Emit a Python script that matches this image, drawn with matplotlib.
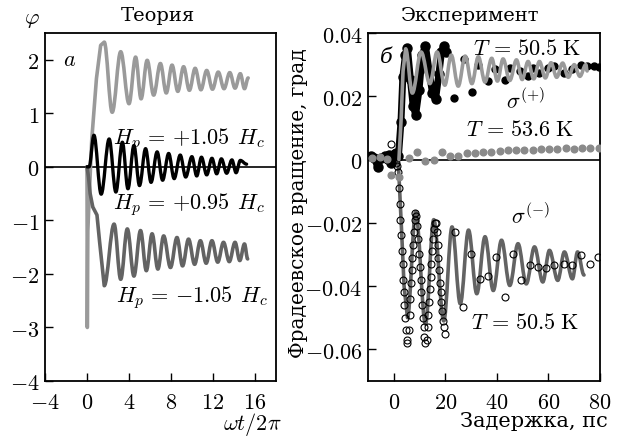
import matplotlib
matplotlib.use("Agg")
import matplotlib.pyplot as plt
from matplotlib.path import Path
from matplotlib.patches import PathPatch

plt.rcParams["font.family"] = ["DejaVu Serif"]
plt.rcParams["mathtext.fontset"] = "cm"

# -----------------------
# ТЕОРИЯ (левая панель): начальный участок + экстремумы колебаний
# -----------------------
x_p105 = [0.0, 0.03, 0.08, 0.2, 0.45, 0.9, 1.3, 1.64, 2.4, 3.21, 4.0, 4.63, 5.15, 5.73, 6.35, 6.99,
          7.55, 8.1, 8.65, 9.2, 9.75, 10.3, 10.85, 11.4, 11.95, 12.5, 13.05, 13.6, 14.1, 14.6, 15.0, 15.35]
y_p105 = [0.0, -3.0, -1.2, -0.6, 0.5, 1.65, 2.27, 2.33, 1.02, 2.15, 1.18, 2.05, 1.27, 1.99, 1.34, 1.93,
          1.38, 1.90, 1.41, 1.87, 1.43, 1.84, 1.44, 1.80, 1.45, 1.77, 1.46, 1.76, 1.47, 1.74, 1.46, 1.66]

x_p095 = [0.0, 0.2, 0.66, 1.35, 2.11, 2.75, 3.37, 3.9, 4.47, 5.0, 5.58, 6.1, 6.68, 7.2, 7.78, 8.3, 8.88,
          9.4, 9.99, 10.45, 10.9, 11.4, 11.9, 12.35, 12.8, 13.3, 13.8, 14.2, 14.6, 15.2]
y_p095 = [0.0, 0.0, 0.59, -0.51, 0.52, -0.47, 0.46, -0.41, 0.40, -0.35, 0.34, -0.29, 0.28, -0.25, 0.25,
          -0.22, 0.22, -0.19, 0.19, -0.17, 0.18, -0.15, 0.16, -0.13, 0.15, -0.12, 0.13, -0.11, 0.12, 0.05]

x_m105 = [0.0, 0.15, 0.3, 0.55, 0.95, 1.2, 1.64, 2.58, 3.21, 3.84, 4.47, 5.1, 5.65, 6.2, 6.75, 7.3,
          7.95, 8.57, 9.1, 9.67, 10.25, 10.8, 11.35, 11.9, 12.45, 13.0, 13.55, 14.1, 14.55, 15.0, 15.3]
y_m105 = [0.0, -0.2, -0.5, -0.75, -0.9, -1.4, -2.22, -1.07, -2.10, -1.16, -2.04, -1.19, -1.94, -1.25,
          -1.91, -1.29, -1.88, -1.32, -1.85, -1.35, -1.82, -1.38, -1.80, -1.38, -1.78, -1.41, -1.77,
          -1.41, -1.75, -1.44, -1.72]

left_xticks = [-4, 0, 4, 8, 12, 16]
left_yticks = [-4, -3, -2, -1, 0, 1, 2]

# -----------------------
# ЭКСПЕРИМЕНТ (правая панель)
# -----------------------
# sigma(+), T = 50.5 K: плотная часть (до 20 пс) и редкие точки
t_plus_dense = [-9.0, -7.5, -6.3, -5.0, -3.5, -2.0, -1.0, 0.0, 1.0, 1.8, 2.8, 3.5, 4.5, 5.3, 6.5, 7.5,
                8.5, 9.8, 11.0, 12.3, 13.7, 15.0, 16.2, 17.5, 18.5, 19.4, 20.2]
v_plus_dense = [0.001, 0.0005, -0.0022, 0.0005, 0.001, 0.0015, -0.001, 0.001, 0.002, 0.001, 0.012, 0.026,
                0.033, 0.0353, 0.025, 0.017, 0.0142, 0.022, 0.033, 0.0359, 0.028, 0.021, 0.019, 0.027,
                0.034, 0.0359, 0.034]
t_plus_sparse = [23.2, 27.1, 30.3, 32.8, 36.7, 39.2, 43.1, 45.0, 48.8, 52.0, 54.0, 56.5, 59.7, 62.3,
                 66.2, 69.3, 72.6, 75.1, 77.5, 79.5]
v_plus_sparse = [0.0195, 0.0317, 0.0215, 0.030, 0.0248, 0.0285, 0.0253, 0.029, 0.0279, 0.0263, 0.029,
                 0.0274, 0.029, 0.0295, 0.0274, 0.0285, 0.030, 0.0295, 0.0295, 0.0292]
t_plus_fit = [2.0, 2.8, 3.6, 4.6, 7.2, 10.6, 14.0, 16.8, 19.8, 22.3, 25.0, 27.7, 30.3, 32.8, 35.4, 38.0,
              40.2, 42.4, 45.0, 47.6, 49.8, 52.1, 54.3, 56.5, 58.8, 61.0, 63.2, 65.5, 67.7, 70.0, 72.2,
              74.5, 75.0]
v_plus_fit = [0.0, 0.012, 0.028, 0.035, 0.021, 0.034, 0.024, 0.034, 0.0235, 0.033, 0.0232, 0.0327,
              0.024, 0.0325, 0.0245, 0.032, 0.0248, 0.0318, 0.025, 0.0315, 0.0253, 0.031, 0.0255, 0.031,
              0.0258, 0.0306, 0.026, 0.0305, 0.026, 0.030, 0.0263, 0.0300, 0.028]

# T = 53.6 K
t_536 = [-8.5, -5.5, -2.5, -1.2, 2.0, 5.9, 9.1, 12.3, 15.5, 18.7, 21.9, 25.1, 28.3, 31.5, 34.7, 37.9,
         41.1, 44.3, 47.5, 50.7, 53.9, 57.1, 60.3, 63.5, 66.7, 69.9, 73.1, 76.3, 79.5]
v_536 = [0.0005, 0.0008, 0.0003, -0.0049, -0.0054, 0.0004, 0.0025, -0.0006, -0.0001, 0.0025, 0.0012,
         0.0012, 0.002, 0.0022, 0.0024, 0.0025, 0.0028, 0.0029, 0.0029, 0.0031, 0.0031, 0.0033, 0.0033,
         0.0034, 0.0036, 0.0034, 0.0035, 0.0036, 0.0037]

# sigma(-), T = 50.5 K
t_minus = [-2.5, -1.2, 0.0, 0.8, 1.2,
           1.6, 2.0, 2.3, 2.6, 2.9, 3.2, 3.4, 3.7, 3.9, 4.1, 4.4, 4.7, 5.0, 5.3,
           5.8, 6.1, 6.4, 6.7, 6.9, 7.2, 7.5, 7.8, 8.1, 8.4, 8.8,
           9.2, 9.5, 9.8, 10.1, 10.4, 10.7, 11.0, 11.3, 11.6, 11.9, 12.3, 12.7,
           13.1, 13.4, 13.7, 14.0, 14.3, 14.6, 14.9, 15.2, 15.5, 15.9, 16.3,
           16.7, 17.0, 17.3, 17.6, 17.9, 18.2, 18.5, 18.8, 19.1, 19.4, 19.7,
           23.8, 26.7, 30.0, 33.5, 36.4, 39.6, 43.1, 46.3, 49.5, 52.7, 55.9, 59.1, 62.3, 65.9, 69.3,
           72.6, 76.0, 79.4]
v_minus = [0.0, 0.005, 0.002, -0.001, -0.002,
           -0.004, -0.009, -0.014, -0.019, -0.024, -0.029, -0.033, -0.038, -0.042, -0.046, -0.050,
           -0.054, -0.057, -0.058,
           -0.054, -0.049, -0.044, -0.039, -0.035, -0.031, -0.027, -0.023, -0.019, -0.017, -0.018,
           -0.021, -0.025, -0.030, -0.034, -0.038, -0.042, -0.046, -0.050, -0.053, -0.056, -0.058, -0.057,
           -0.053, -0.049, -0.045, -0.041, -0.037, -0.033, -0.029, -0.025, -0.022, -0.020, -0.020,
           -0.023, -0.027, -0.031, -0.035, -0.039, -0.042, -0.045, -0.048, -0.051, -0.053, -0.055,
           -0.0229, -0.0467, -0.0297, -0.0377, -0.0368, -0.0308, -0.0435, -0.0297, -0.0382, -0.0334,
           -0.034, -0.0343, -0.0334, -0.0329, -0.0334, -0.0303, -0.0329, -0.0308]
t_minus_fit = [1.5, 2.0, 3.0, 4.0, 5.3, 8.5, 12.3, 15.5, 19.4, 22.6, 25.8, 29.0, 32.2, 35.4, 38.6, 41.8,
               45.0, 48.2, 51.4, 54.6, 57.8, 60.4, 63.6, 66.2, 69.3, 71.3, 73.8]
v_minus_fit = [0.001, -0.005, -0.022, -0.040, -0.050, -0.0165, -0.052, -0.019, -0.051, -0.0213, -0.0456,
               -0.0223, -0.0424, -0.0244, -0.0414, -0.0255, -0.0398, -0.0266, -0.0393, -0.0276, -0.0387,
               -0.0287, -0.0382, -0.0292, -0.0377, -0.0292, -0.0365]

right_xticks = [0, 20, 40, 60, 80]
right_yticks = [-0.06, -0.04, -0.02, 0, 0.02, 0.04]
right_ylabels = [r"$-0.06$", r"$-0.04$", r"$-0.02$", r"$0$", r"$0.02$", r"$0.04$"]

LIGHT = "#9a9a9a"
DARK = "#636363"
FS = 16


def curve(ax, xs, ys, n_straight, **kw):
    # первые n_straight точек — ломаная, дальше экстремумы соединяются гладко
    verts = [(xs[0], ys[0])]
    codes = [Path.MOVETO]
    for i in range(1, len(xs)):
        if i < n_straight:
            verts.append((xs[i], ys[i]))
            codes.append(Path.LINETO)
        else:
            dx = xs[i] - xs[i - 1]
            verts += [(xs[i - 1] + 0.36 * dx, ys[i - 1]), (xs[i] - 0.36 * dx, ys[i]), (xs[i], ys[i])]
            codes += [Path.CURVE4] * 3
    ax.add_patch(PathPatch(Path(verts, codes), fill=False, capstyle="round", joinstyle="round", **kw))


fig = plt.figure(figsize=(6.27, 4.39), dpi=100)
ax1 = fig.add_axes([45 / 627, 57 / 439, 231 / 627, 348 / 439])
ax2 = fig.add_axes([368 / 627, 57 / 439, 232 / 627, 348 / 439])

# -----------------------
# Левая панель
# -----------------------
ax1.axhline(0, color="black", lw=1.2, zorder=1)
curve(ax1, x_p105, y_p105, 8, edgecolor=LIGHT, lw=2.6, zorder=2)
curve(ax1, x_m105, y_m105, 7, edgecolor=DARK, lw=2.6, zorder=2)
curve(ax1, x_p095, y_p095, 2, edgecolor="black", lw=2.4, zorder=3)
ax1.set_xlim(-4, 18)
ax1.set_ylim(-4, 2.5)
ax1.set_xticks(left_xticks)
ax1.set_xticklabels([rf"${v}$" for v in left_xticks])
ax1.set_yticks(left_yticks)
ax1.set_yticklabels([rf"${v}$" for v in left_yticks])

ax1.text(-1.7, 2.02, r"$a$", fontsize=FS, ha="center", va="center")
ax1.text(2.5, 0.52, r"$H_p\,=\,{+}1.05\;\,H_c$", fontsize=FS, ha="left", va="center")
ax1.text(2.5, -0.69, r"$H_p\,=\,{+}0.95\;\,H_c$", fontsize=FS, ha="left", va="center")
ax1.text(2.8, -2.43, r"$H_p\,=\,{-}1.05\;\,H_c$", fontsize=FS, ha="left", va="center")

# -----------------------
# Правая панель
# -----------------------
ax2.axhline(0, color="black", lw=1.2, zorder=1)
curve(ax2, t_minus_fit, v_minus_fit, 5, edgecolor=DARK, lw=2.6, zorder=2)
ax2.plot(t_minus, v_minus, ls="none", marker="o", ms=5, mfc="none", mec="black", mew=0.8, zorder=3)
ax2.plot(t_plus_dense, v_plus_dense, color="black", lw=5, marker="o", ms=6.5, solid_joinstyle="round", zorder=3)
ax2.plot(t_plus_sparse, v_plus_sparse, ls="none", marker="o", ms=5, color="black", zorder=3)
ax2.plot(t_536, v_536, ls="none", marker="o", ms=4.8, color="#8a8a8a", zorder=3)
curve(ax2, t_plus_fit, v_plus_fit, 4, edgecolor=LIGHT, lw=2.6, zorder=4)
ax2.set_xlim(-10, 80)
ax2.set_ylim(-0.07, 0.04)
ax2.set_xticks(right_xticks)
ax2.set_xticklabels([rf"${v}$" for v in right_xticks])
ax2.set_yticks(right_yticks)
ax2.set_yticklabels(right_ylabels)

ax2.text(-3, 0.0327, "б", fontsize=15, style="italic", ha="center", va="center")
ax2.text(51.5, 0.0352, r"$T\,=\,50.5\;\mathrm{K}$", fontsize=FS, ha="center", va="center")
ax2.text(51, 0.0184, r"$\sigma^{(+)}$", fontsize=FS, ha="center", va="center")
ax2.text(49, 0.0095, r"$T\,=\,53.6\;\mathrm{K}$", fontsize=FS, ha="center", va="center")
ax2.text(53, -0.018, r"$\sigma^{(-)}$", fontsize=FS, ha="center", va="center")
ax2.text(51, -0.0514, r"$T\,=\,50.5\;\mathrm{K}$", fontsize=FS, ha="center", va="center")

for ax in (ax1, ax2):
    ax.tick_params(direction="in", length=6, width=1, labelsize=16, top=False, right=False)
    ax.tick_params(axis="y", pad=4)
    ax.tick_params(axis="x", pad=7)
    for s in ax.spines.values():
        s.set_linewidth(1.3)

fig.text(158 / 627, 1 - 16 / 439, "Теория", fontsize=14, ha="center", va="center")
fig.text(470 / 627, 1 - 16 / 439, "Эксперимент", fontsize=14, ha="center", va="center")
fig.text(32 / 627, 1 - 19 / 439, r"$\varphi$", fontsize=FS, ha="center", va="center")
fig.text(252 / 627, 1 - 425 / 439, r"$\omega t/2\pi$", fontsize=FS, ha="center", va="center")
fig.text(534 / 627, 1 - 422 / 439, "Задержка, пс", fontsize=15, ha="center", va="center")
fig.text(298 / 627, 1 - 203 / 439, "Фрадеевское вращение, град", fontsize=14.5, rotation=90,
         ha="center", va="center")

plt.savefig("out.png", dpi=100)
